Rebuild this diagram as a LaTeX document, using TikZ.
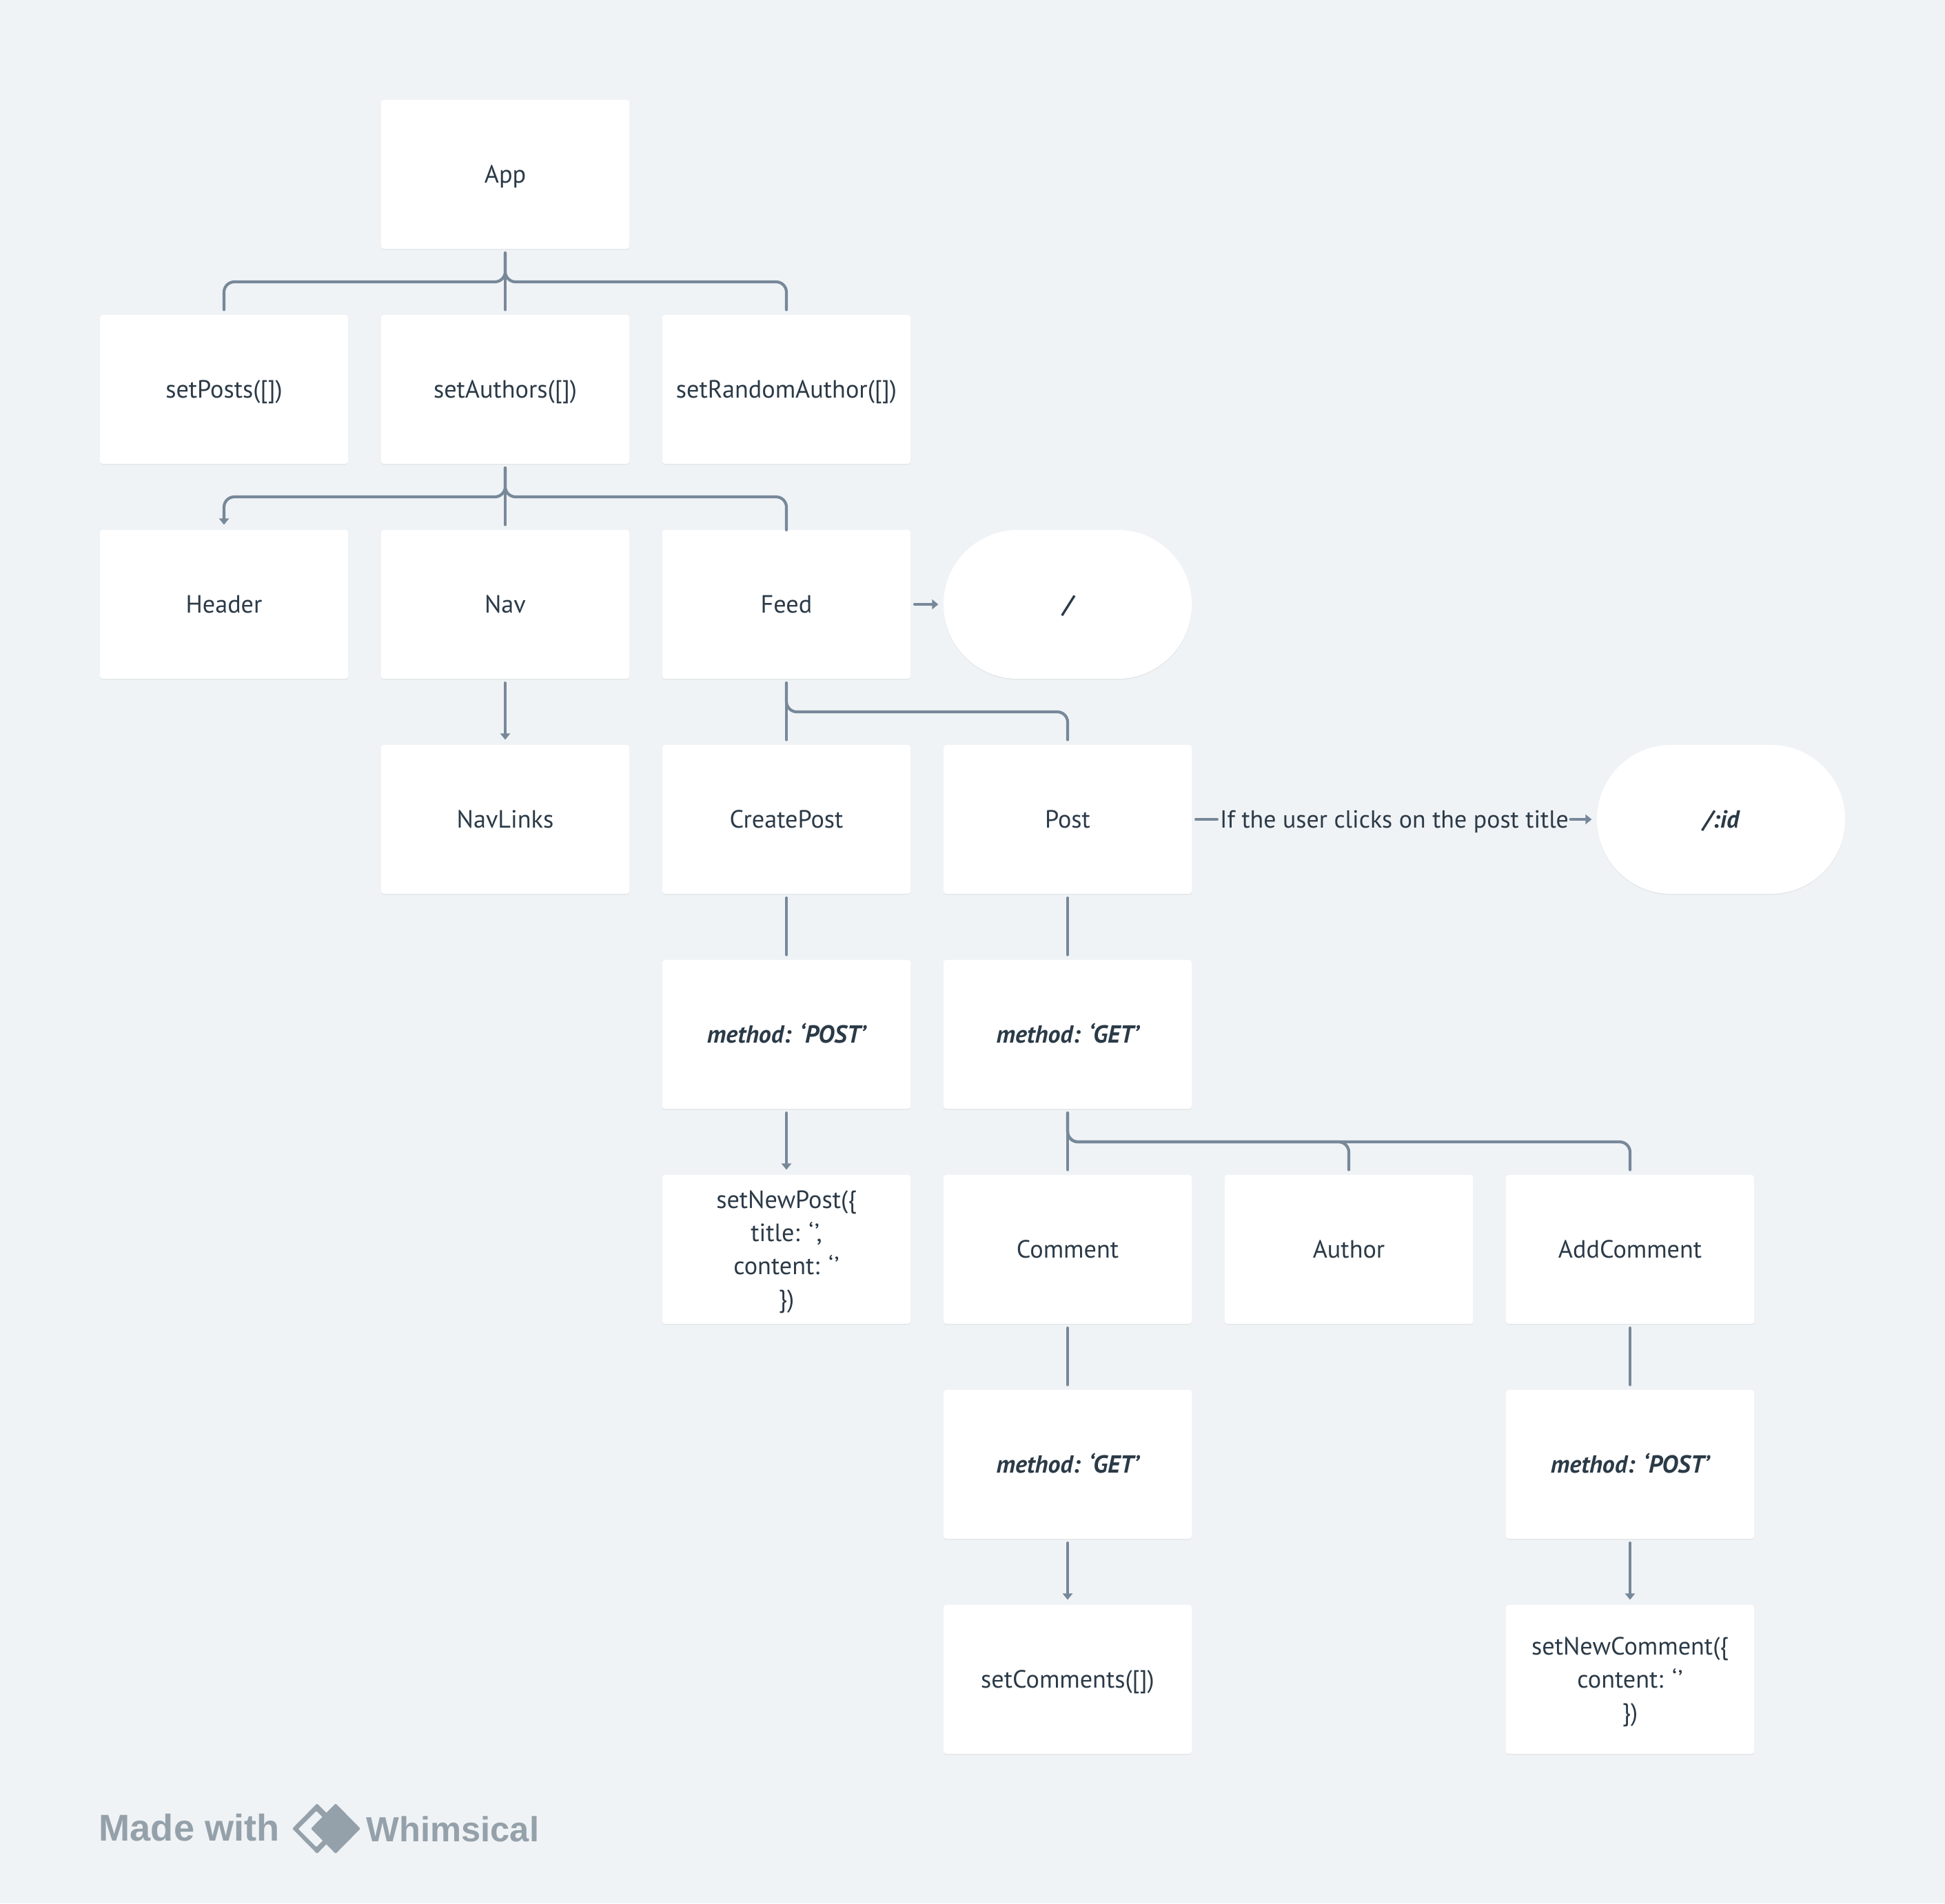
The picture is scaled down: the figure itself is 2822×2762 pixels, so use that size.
\documentclass[tikz,border=0pt]{standalone}
\usepackage{fontspec}
\setmainfont{PT Sans}
\newfontfamily\logofont{Liberation Sans}
\usetikzlibrary{arrows.meta,calc,shadows}
\definecolor{pagebg}{HTML}{F0F3F6}
\definecolor{linkcol}{HTML}{778899}
\definecolor{inkcol}{HTML}{2B3A47}
\definecolor{logocol}{HTML}{95A1AA}
\newcommand{\boxstrut}{\rule[-0.115cm]{0pt}{0.48cm}}
\newcommand{\topstrut}{\rule{0pt}{0.36cm}}
\begin{document}
\begin{tikzpicture}[x=0.01cm,y=-0.01cm,
  box/.style={fill=white, rounded corners=0.04cm, minimum width=3.6cm, minimum height=2.16cm,
    inner sep=0pt, outer sep=0.06cm, text=inkcol, align=center,
    font=\fontsize{10.3pt}{13.66pt}\selectfont,
    execute at begin node=\boxstrut, execute at end node=\boxstrut,
    drop shadow={shadow xshift=0cm, shadow yshift=-0.015cm, fill=black, opacity=0.05}},
  pill/.style={box, rounded corners=1.08cm},
  strong/.style={font=\fontsize{10.2pt}{13.66pt}\selectfont\bfseries\itshape},
  link/.style={draw=linkcol, line width=0.042cm, line cap=round, rounded corners=0.15cm, shorten >=0.015cm},
  arrow/.style={link, -{Triangle[width=0.14cm,length=0.09cm]}},
  logotext/.style={anchor=base west, inner sep=0pt, text=logocol}]

\fill[pagebg] (0,0) rectangle (2822,2762);

% ---------- boxes, row by row
\node[box] (app) at (733,253) {App};

\node[box] (setposts) at (325,565) {setPosts([])};
\node[box] (setauthors) at (733,565) {setAuthors([])};
\node[box] (setrandom) at (1141,565) {setRandomAuthor([])};

\node[box] (header) at (325,877) {Header};
\node[box] (nav) at (733,877) {Nav};
\node[box] (feed) at (1141,877) {Feed};
\node[pill, strong] (rootroute) at (1549,877) {/};

\node[box] (navlinks) at (733,1189) {NavLinks};
\node[box] (createpost) at (1141,1189) {CreatePost};
\node[box] (post) at (1549,1189) {Post};
\node[pill, strong] (idroute) at (2497,1189) {/:id};

\node[box, strong] (methodpost) at (1141,1501) {method: ‘POST’};
\node[box, strong] (methodget) at (1549,1501) {method: ‘GET’};

\node[box] (setnewpost) at (1141,1813) {\topstrut setNewPost(\{\\title: ‘\kern0.4pt’,\\content: ‘\kern0.4pt’\\\})};
\node[box] (comment) at (1549,1813) {Comment};
\node[box] (author) at (1957,1813) {Author};
\node[box] (addcomment) at (2365,1813) {AddComment};

\node[box, strong] (commentget) at (1549,2125) {method: ‘GET’};
\node[box, strong] (commentpost) at (2365,2125) {method: ‘POST’};

\node[box] (setcomments) at (1549,2437) {setComments([])};
\node[box] (setnewcomment) at (2365,2437) {\topstrut setNewComment(\{\\content: ‘\kern0.4pt’\\\})};

\node[text=inkcol, inner sep=0.02cm, font=\fontsize{10.2pt}{13.66pt}\selectfont, execute at begin node=\boxstrut] (clicklabel) at (2023,1189) {If the user clicks on the post title};

% ---------- forks
\coordinate (appfork) at ($(app.south)!0.5!(setauthors.north)$);
\coordinate (authorsfork) at ($(setauthors.south)!0.5!(nav.north)$);
\coordinate (feedfork) at ($(feed.south)!0.5!(createpost.north)$);
\coordinate (getfork) at ($(methodget.south)!0.5!(comment.north)$);

\draw[link] (app.south) -- (setauthors.north);
\draw[link] (app.south) -- (appfork) -| (setposts.north);
\draw[link] (app.south) -- (appfork) -| (setrandom.north);

\draw[link] (setauthors.south) -- (nav.north);
\draw[arrow] (setauthors.south) -- (authorsfork) -| (header.north);
\draw[link, shorten >=-0.06cm] (setauthors.south) -- (authorsfork) -| (feed.north);

\draw[link] (feed.south) -- (createpost.north);
\draw[link] (feed.south) -- (feedfork) -| (post.north);

\draw[link] (methodget.south) -- (comment.north);
\draw[link] (methodget.south) -- (getfork) -| (author.north);
\draw[link] (methodget.south) -- (getfork) -| (addcomment.north);

% ---------- single links
\draw[arrow] (feed.east) -- (rootroute.west);
\draw[arrow] (nav.south) -- (navlinks.north);
\draw[link] (post.east) -- (clicklabel.west);
\draw[arrow] (clicklabel.east) -- (idroute.west);
\draw[link] (createpost.south) -- (methodpost.north);
\draw[link] (post.south) -- (methodget.north);
\draw[arrow] (methodpost.south) -- (setnewpost.north);
\draw[link] (comment.south) -- (commentget.north);
\draw[link] (addcomment.south) -- (commentpost.north);
\draw[arrow] (commentget.south) -- (setcomments.north);
\draw[arrow] (commentpost.south) -- (setnewcomment.north);

% ---------- logo
\node[logotext, font=\logofont\fontsize{15.4pt}{15pt}\selectfont\bfseries] (madewith) at (143,2671) {Made with};
\node[logotext, font=\logofont\fontsize{14.4pt}{15pt}\selectfont\bfseries] (whimsical) at (531,2672) {Whimsical};
\fill[logocol, rounded corners=0.02cm] (424,2653.5) -- (460,2617) -- (496,2653.5) -- (460,2690) -- cycle;
\fill[pagebg, rounded corners=0.01cm] (433,2654) -- (459,2628) -- (485,2654) -- (459,2680) -- cycle;
\fill[logocol, rounded corners=0.02cm] (451,2653.5) -- (487,2617) -- (523,2653.5) -- (487,2690) -- cycle;
\end{tikzpicture}
\end{document}
